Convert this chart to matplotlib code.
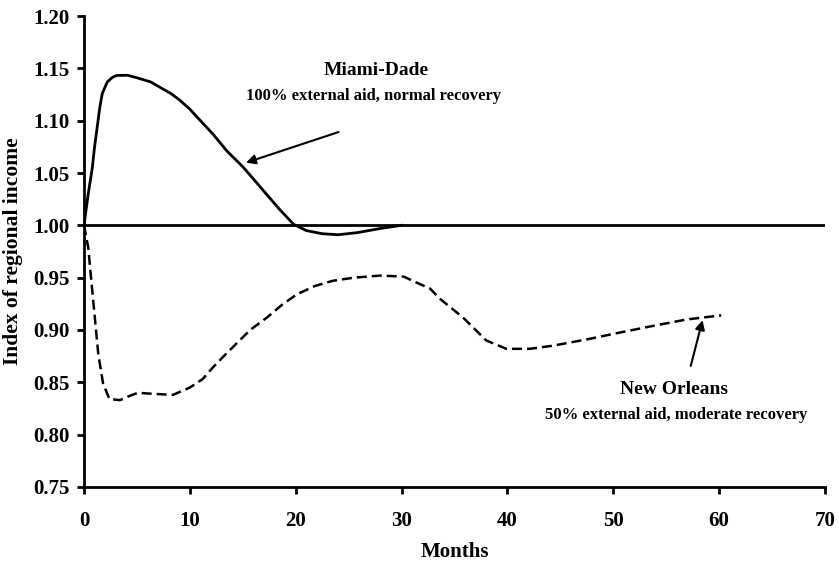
import matplotlib.pyplot as plt

# months / index values
miami_months = [0, 0.4, 0.78, 1.0, 1.25, 1.5, 1.73, 2.2, 2.7, 3.1, 4.1, 5.0, 6.3, 7.5,
                8.2, 9.0, 10.0, 11.0, 12.2, 13.5, 15.0, 16.2, 17.3, 18.5, 19.8, 21.0,
                22.5, 24.0, 25.8, 28.0, 30.0]
miami_index = [1.000, 1.030, 1.0545, 1.075, 1.094, 1.113, 1.126, 1.137, 1.1415, 1.1432,
               1.1434, 1.141, 1.137, 1.130, 1.126, 1.120, 1.111, 1.100, 1.087, 1.071,
               1.056, 1.042, 1.029, 1.015, 1.001, 0.995, 0.992, 0.991, 0.993, 0.997, 1.000]

nola_months = [0, 0.4, 0.75, 1.05, 1.35, 1.8, 2.4, 3.4, 4.3, 5.1, 6.5, 8.4, 10.0, 11.2,
               12.2, 13.3, 14.4, 15.7, 17.3, 18.7, 20.1, 21.8, 23.5, 25.5, 28.0, 30.2,
               31.7, 32.7, 33.6, 35.8, 37.0, 38.0, 39.9, 42.1, 44.3, 47.5, 50.6, 53.8,
               56.9, 60.2]
nola_index = [1.000, 0.979, 0.941, 0.909, 0.877, 0.849, 0.834, 0.833, 0.837, 0.840,
              0.839, 0.838, 0.845, 0.853, 0.8645, 0.876, 0.887, 0.900, 0.912, 0.924,
              0.934, 0.942, 0.947, 0.950, 0.952, 0.951, 0.944, 0.9395, 0.930, 0.912,
              0.900, 0.890, 0.882, 0.882, 0.885, 0.891, 0.8975, 0.904, 0.910, 0.914]

base_months = [0, 70]
base_index = [1.0, 1.0]

x_ticks = [0, 10, 20, 30, 40, 50, 60, 70]
y_ticks = [0.75, 0.80, 0.85, 0.90, 0.95, 1.00, 1.05, 1.10, 1.15, 1.20]

plt.rcParams['font.family'] = ['Liberation Serif', 'DejaVu Serif']

fig = plt.figure(figsize=(8.39, 5.62), dpi=100)
ax = fig.add_axes([0.1001, 0.1335, 0.8832, 0.838])

ax.plot(base_months, base_index, color='black', lw=2)
ax.plot(miami_months, miami_index, color='black', lw=2)
ax.plot(nola_months, nola_index, color='black', lw=1.8, ls=(0, (4, 2)))

ax.set_xlim(0, 70)
ax.set_ylim(0.75, 1.20)
ax.set_xticks(x_ticks)
ax.set_yticks(y_ticks)
ax.set_yticklabels(['%.2f' % v for v in y_ticks])
for s in ['top', 'right']:
    ax.spines[s].set_visible(False)
for s in ['left', 'bottom']:
    ax.spines[s].set_linewidth(2)
ax.tick_params(axis='both', direction='out', length=5, width=2,
               labelsize=15)
ax.tick_params(axis='y', pad=5)
ax.tick_params(axis='x', pad=12)
for lab in ax.get_xticklabels() + ax.get_yticklabels():
    lab.set_fontweight('bold')

ax.set_xlabel('Months', fontsize=15, fontweight='bold', labelpad=8)
ax.set_ylabel('Index of regional income', fontsize=15.5, fontweight='bold', labelpad=8)

ax.annotate('', xy=(15.05, 1.059), xytext=(24.3, 1.090),
            arrowprops=dict(arrowstyle='-|>', color='black', lw=1.5, mutation_scale=14))
ax.text(27.6, 1.148, 'Miami-Dade', ha='center', va='center', fontsize=14, fontweight='bold')
ax.text(27.4, 1.124, '100% external aid, normal recovery', ha='center', va='center',
        fontsize=12, fontweight='bold')

ax.annotate('', xy=(58.5, 0.912), xytext=(57.25, 0.863),
            arrowprops=dict(arrowstyle='-|>', color='black', lw=1.5, mutation_scale=14))
ax.text(55.7, 0.843, 'New Orleans', ha='center', va='center', fontsize=14, fontweight='bold')
ax.text(55.9, 0.819, '50% external aid, moderate recovery', ha='center', va='center',
        fontsize=12, fontweight='bold')

fig.savefig('out.png', dpi=100)
